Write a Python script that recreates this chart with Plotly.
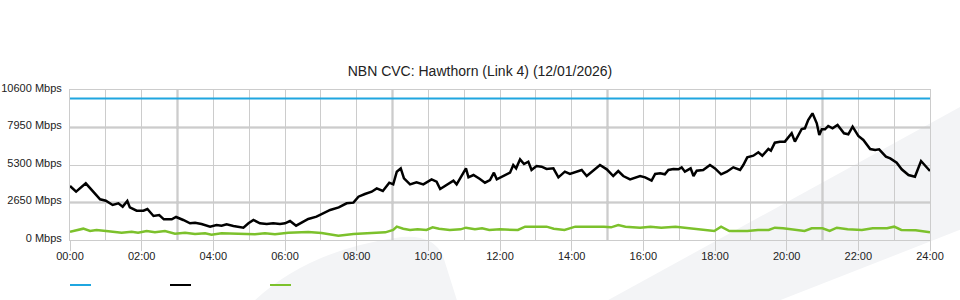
import plotly.graph_objects as go

# ---- data (hours since midnight, Mbps) ----
black_t = [0.00, 0.17, 0.44, 0.65, 0.84, 1.00, 1.19, 1.35, 1.47, 1.60, 1.67, 1.86, 2.05, 2.16, 2.33, 2.49,
           2.62, 2.84, 2.96, 3.16, 3.35, 3.49, 3.67, 3.91, 4.09, 4.23, 4.37, 4.56, 4.84, 4.98, 5.12, 5.30,
           5.49, 5.67, 5.86, 6.00, 6.14, 6.31, 6.47, 6.65, 6.88, 7.07, 7.26, 7.50, 7.72, 7.91, 8.05, 8.23,
           8.42, 8.56, 8.73, 8.91, 9.02, 9.12, 9.23, 9.32, 9.49, 9.67, 9.86, 10.09, 10.23, 10.33, 10.51,
           10.70, 10.79, 10.93, 11.05, 11.12, 11.26, 11.44, 11.58, 11.72, 11.83, 11.91, 12.09, 12.28, 12.37,
           12.45, 12.56, 12.67, 12.79, 12.88, 13.02, 13.16, 13.30, 13.49, 13.63, 13.81, 13.95, 14.09, 14.28,
           14.42, 14.60, 14.79, 14.98, 15.16, 15.30, 15.44, 15.63, 15.91, 16.05, 16.23, 16.33, 16.47, 16.60,
           16.70, 16.84, 16.98, 17.07, 17.16, 17.32, 17.40, 17.49, 17.67, 17.86, 18.00, 18.17, 18.33, 18.51,
           18.70, 18.79, 18.90, 19.07, 19.21, 19.32, 19.49, 19.56, 19.67, 19.81, 19.95, 20.14, 20.23, 20.42,
           20.51, 20.60, 20.72, 20.84, 20.91, 20.98, 21.07, 21.16, 21.28, 21.42, 21.60, 21.72, 21.84, 22.00,
           22.14, 22.33, 22.47, 22.58, 22.77, 22.89, 23.07, 23.21, 23.40, 23.58, 23.75, 24.00]
black_v = [3816, 3415, 4004, 3415, 2874, 2780, 2473, 2591, 2356, 2756, 2308, 2073, 2073, 2191, 1696, 1767,
           1460, 1460, 1625, 1413, 1178, 1225, 1131, 942, 1060, 1013, 1107, 989, 872, 1178, 1413, 1178,
           1131, 1178, 1131, 1178, 1343, 1013, 1225, 1484, 1649, 1884, 2120, 2300, 2591, 2638, 3062, 3250,
           3415, 3650, 3462, 4051, 3933, 4828, 5063, 4357, 3933, 4075, 3933, 4287, 4122, 3604, 3887,
           4193, 3933, 4523, 5063, 4428, 4593, 4310, 4051, 4240, 4758, 4287, 4523, 4758, 5300,
           5063, 5700, 5371, 5536, 4947, 5230, 5182, 5018, 5063, 4428, 4828, 4664, 4780, 4947,
           4523, 4876, 5300, 4994, 4523, 4876, 4523, 4287, 4523, 4428, 4193, 4664, 4711, 4640,
           4947, 5018, 4994, 5135, 4828, 5063, 4523, 4900, 4947, 5300, 5063, 4640, 4828, 5135,
           4947, 5300, 5841, 5959, 6195, 5959, 6431, 6313, 6879, 6950, 6950, 7539, 6950, 7844,
           7893, 8480, 8950, 8245, 7420, 7820, 7820, 8056, 7893, 8127, 7539, 7468, 8009, 7350,
           7067, 6431, 6360, 6407, 5888, 5770, 5465, 4994, 4593, 4475, 5583, 4876]

green_t = [0.00, 0.37, 0.56, 0.74, 1.07, 1.26, 1.44, 1.72, 1.90, 2.14, 2.37, 2.65, 2.93, 3.21, 3.49, 3.77,
           3.95, 4.23, 4.51, 4.79, 5.16, 5.44, 5.72, 6.09, 6.37, 6.65, 7.02, 7.21, 7.49, 7.91, 8.42, 8.80,
           9.02, 9.12, 9.30, 9.49, 9.70, 9.95, 10.12, 10.30, 10.60, 10.90, 11.05, 11.30, 11.50, 11.70,
           12.00, 12.30, 12.50, 12.70, 13.00, 13.30, 13.50, 13.80, 14.10, 14.50, 14.90, 15.10, 15.30,
           15.50, 15.91, 16.20, 16.50, 16.90, 17.40, 17.70, 17.98, 18.17, 18.40, 18.90, 19.20, 19.50,
           19.67, 19.90, 20.20, 20.50, 20.70, 21.00, 21.20, 21.40, 21.70, 22.10, 22.40, 22.80, 23.00,
           23.20, 23.60, 24.00]
green_v = [589, 801, 636, 707, 613, 589, 518, 589, 518, 636, 542, 636, 447, 518, 424, 471,
           377, 471, 447, 400, 400, 471, 400, 518, 565, 565, 495, 400, 306, 424, 471, 542,
           707, 942, 801, 707, 754, 707, 895, 801, 707, 754, 871, 754, 824, 707,
           754, 754, 707, 942, 942, 942, 801, 707, 942, 965, 942, 895, 1060,
           942, 871, 942, 871, 942, 824, 754, 636, 942, 636, 636, 707, 707,
           871, 824, 707, 636, 824, 824, 636, 871, 754, 707, 824, 824, 942,
           707, 683, 542]

blue_t = [0, 24]
blue_v = [10000, 10000]

y_ticks = [0, 2650, 5300, 7950, 10600]
y_labels = [f"{v} Mbps" for v in y_ticks]
x_ticks = list(range(0, 25, 2))
x_labels = [f"{h:02d}:00" for h in x_ticks]

BLUE = "#1fa6e0"
BLACK = "#000000"
GREEN = "#7cc12c"
GRID = "#cccccc"
DARK_GRID = "#bdbdbd"
BAND = "#f3f4f6"

# plot area in pixels: x 70..930, y 90..240
L, R, T, B = 70, 930, 90, 240
def px(x):
    return (x - L) / (R - L)
def py(y):
    return (B - y) / (B - T)

fig = go.Figure()
fig.add_trace(go.Scatter(x=blue_t, y=blue_v, mode="lines", line=dict(color=BLUE, width=2),
                         showlegend=False, hoverinfo="skip"))
fig.add_trace(go.Scatter(x=green_t, y=green_v, mode="lines", line=dict(color=GREEN, width=2.5),
                         showlegend=False))
fig.add_trace(go.Scatter(x=black_t, y=black_v, mode="lines", line=dict(color=BLACK, width=2.5),
                         showlegend=False))

shapes = []
# background decorative bands
band_pts = [(590, 310), (980, 96), (980, 222), (755, 310)]
path = "M " + " L ".join(f"{px(a):.4f},{py(b):.4f}" for a, b in band_pts) + " Z"
shapes.append(dict(type="path", xref="paper", yref="paper", path=path,
                   fillcolor=BAND, line=dict(width=0), layer="below"))
blob = (f"M {px(245):.4f},{py(310):.4f} "
        f"Q {px(300):.4f},{py(252):.4f} {px(395):.4f},{py(238):.4f} "
        f"Q {px(432):.4f},{py(232):.4f} {px(443):.4f},{py(256):.4f} "
        f"L {px(460):.4f},{py(310):.4f} Z")
shapes.append(dict(type="path", xref="paper", yref="paper", path=blob,
                   fillcolor=BAND, line=dict(width=0), layer="below"))

# darker grid lines
for h in [3, 9, 15, 21]:
    shapes.append(dict(type="line", xref="x", yref="paper", x0=h, x1=h, y0=0, y1=1,
                       line=dict(color=DARK_GRID, width=2), layer="between"))
for v in [2650, 7950]:
    shapes.append(dict(type="line", xref="paper", yref="y", x0=0, x1=1, y0=v, y1=v,
                       line=dict(color=DARK_GRID, width=2), layer="between"))

# legend swatches (no labels in the original)
for x0, col in [(70, BLUE), (170, BLACK), (270, GREEN)]:
    shapes.append(dict(type="line", xref="paper", yref="paper", x0=px(x0), x1=px(x0 + 21),
                       y0=py(285), y1=py(285), line=dict(color=col, width=2)))

fig.update_layout(
    width=960, height=300,
    margin=dict(l=L, r=960 - R, t=T, b=300 - B, autoexpand=False),
    paper_bgcolor="white", plot_bgcolor="rgba(0,0,0,0)",
    font=dict(family="Liberation Sans, Arial, sans-serif", size=11, color="#222222"),
    title=dict(text="NBN CVC: Hawthorn (Link 4) (12/01/2026)", x=0.5, xanchor="center",
               y=1 - 71 / 300, yanchor="middle", yref="container",
               font=dict(size=14, color="#222222")),
    shapes=shapes,
    showlegend=False,
)
fig.update_xaxes(range=[0, 24], tickvals=x_ticks, ticktext=x_labels, showgrid=True, gridcolor=GRID,
                 gridwidth=1, zeroline=False, ticks="outside", ticklen=10, tickcolor=GRID,
                 ticklabelstandoff=-4, automargin=False,
                 showline=True, linecolor=GRID, mirror=True,
                 minor=dict(dtick=1, showgrid=True, gridcolor=GRID, gridwidth=1, ticks=""))
fig.update_yaxes(range=[0, 10600], tickvals=y_ticks, ticktext=y_labels, showgrid=True, gridcolor=GRID,
                 gridwidth=1, zeroline=False, ticks="", ticklabelstandoff=5, ticklabelshift=-2,
                 automargin=False, showline=True, linecolor=GRID, mirror=True)

fig.write_html("out.html")
